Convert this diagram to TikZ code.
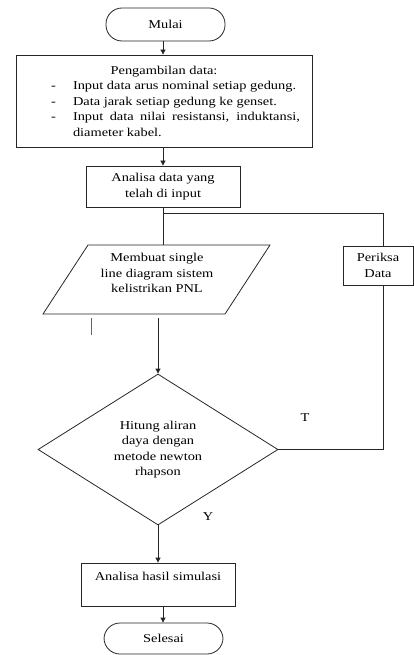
\documentclass[tikz,border=0pt]{standalone}
\usepackage{fontspec}
\setmainfont{Liberation Serif}[FakeStretch=1.2]
\usetikzlibrary{arrows.meta,shapes.geometric}
\begin{document}
\begin{tikzpicture}[x=1pt,y=-1pt,
  every node/.style={font=\fontsize{12}{15.5}\selectfont, text=black},
  line/.style={draw=black!85, line width=0.8pt},
  arr/.style={line, -{Triangle[length=5pt,width=5pt]}},
  terminal/.style={line, rectangle, rounded corners=16pt, minimum width=119pt},
  proc/.style={line, rectangle, align=center},
  lbl/.style={inner sep=0pt}]
\useasboundingbox (0,0) rectangle (414,655);

\node[terminal, minimum height=33pt] (mulai) at (165.5,24.5) {Mulai};

\node[line, rectangle, text width=296pt, align=justify, inner xsep=0pt, minimum height=92pt] (peng) at (164,101) {%
{\centering Pengambilan data:\par}
\hyphenpenalty=10000
\begin{list}{-}{\setlength\leftmargin{57pt}\setlength\rightmargin{12pt}%
\setlength\labelsep{17pt}\setlength\labelwidth{40pt}\setlength\itemsep{0pt}%
\setlength\parsep{0pt}\setlength\topsep{0pt}\setlength\partopsep{0pt}}
\item Input data arus nominal setiap gedung.
\item Data jarak setiap gedung ke genset.
\item Input data nilai resistansi, induktansi, diameter kabel.
\end{list}};

\node[proc, minimum width=154pt, minimum height=41pt] (ana) at (163,186.5) {Analisa data yang\\telah di input};

\coordinate (p1) at (88,245);
\coordinate (p2) at (270,245);
\coordinate (p3) at (225,314);
\coordinate (p4) at (43,314);
\draw[line] (p1) -- (p2) -- (p3) -- (p4) -- cycle;
\node[align=center] (par) at (157,273) {Membuat single\\line diagram sistem\\kelistrikan PNL};

\node[proc, minimum width=70pt, minimum height=39pt] (per) at (378,265.5) {Periksa\\Data};

\node[line, diamond, aspect=1.59, inner sep=0pt, minimum width=240pt, minimum height=151pt, align=center] (dia) at (158,449.5) {Hitung aliran\\daya dengan\\metode newton\\rhapson};

\node[lbl] (t) at (305,418) {T};
\node[lbl] (y) at (208,517) {Y};

\node[proc, minimum width=154pt, minimum height=43pt] (has) at (158,584.5) {Analisa hasil simulasi\\\mbox{}};

\node[terminal, minimum height=31pt] (sel) at (163.5,638.5) {Selesai};

\draw[arr] ([xshift=-2.5pt]mulai.south) -- ([xshift=-2.5pt]mulai.south |- peng.north);
\draw[arr] (peng.south -| ana.north) -- (ana.north);
\draw[line] (ana.south) -- (ana.south |- p1);
\coordinate (j) at (163,213);
\draw[line] (j) -| ([xshift=5pt]per.north);
\draw[arr] ([yshift=-4pt]dia.north |- p4) -- (dia.north);
\draw[line] (dia.east) -| ([xshift=5pt]per.south);
\draw[arr] (dia.south) -- (has.north);
\draw[arr] ([xshift=5pt]has.south) -- ([xshift=5pt]has.south |- sel.north);
\coordinate (s1) at (91,318);
\coordinate (s2) at (91,335);
\draw[line, draw=black!60] (s1) -- (s2);
\end{tikzpicture}
\end{document}
